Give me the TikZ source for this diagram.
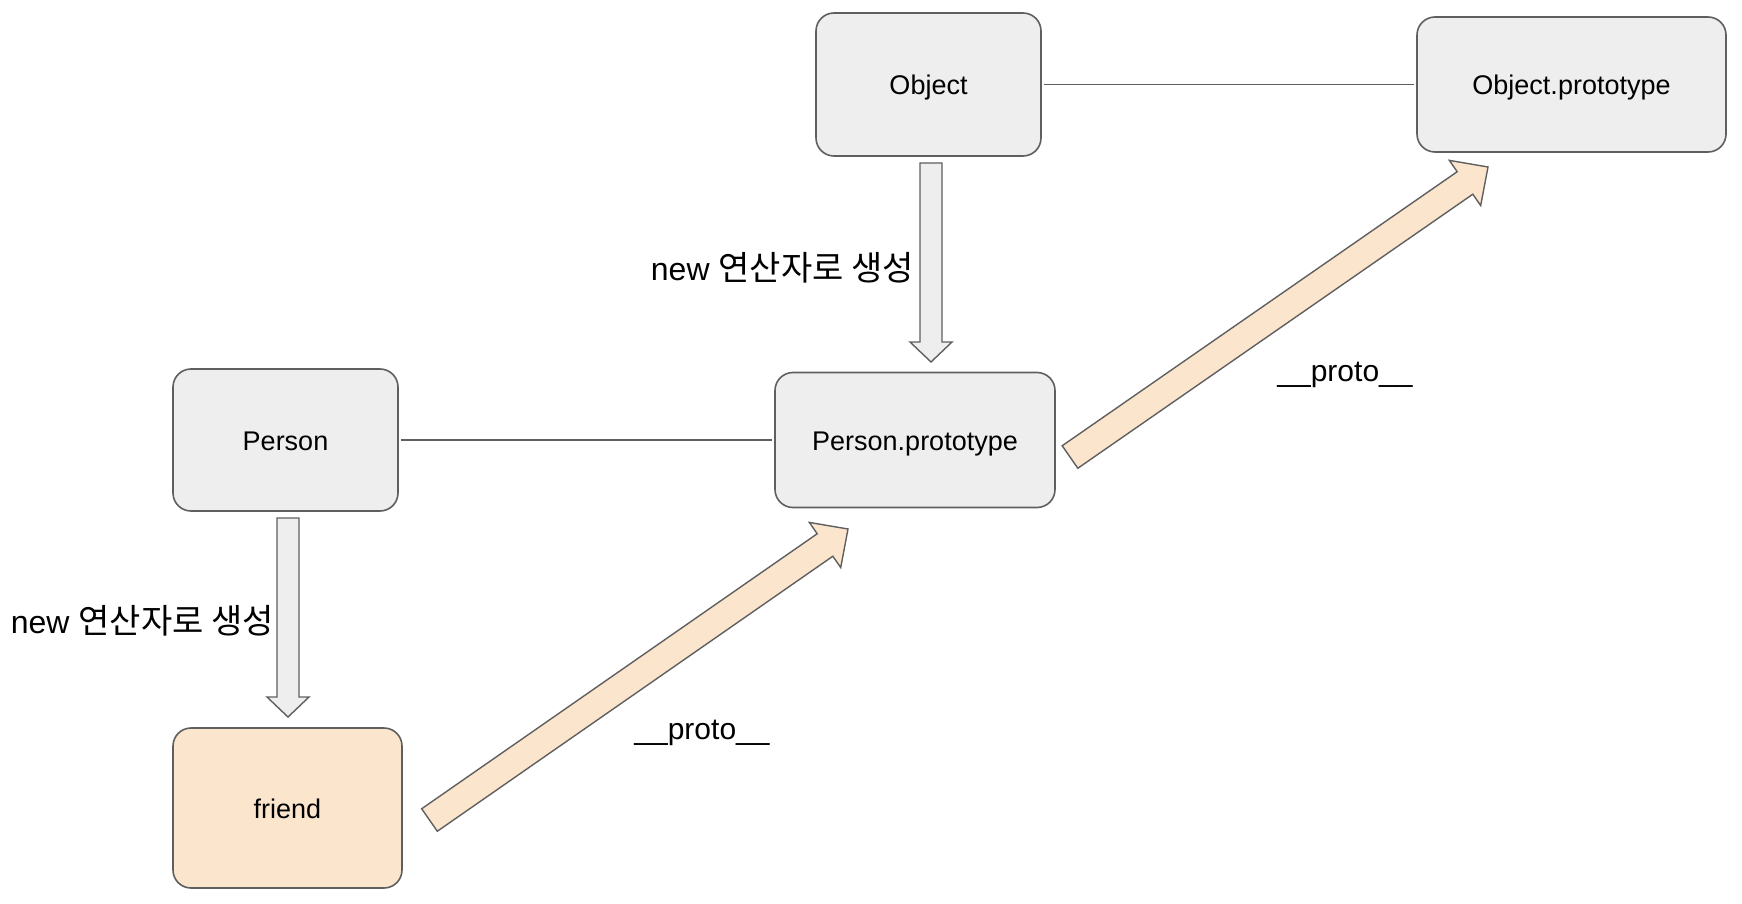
\documentclass[tikz,border=0pt]{standalone}
\usepackage{fontspec}
\setmainfont{Liberation Sans}
\newfontfamily\krfont{Noto Sans CJK KR}
\usetikzlibrary{calc}
\definecolor{boxgray}{HTML}{EEEEEE}
\definecolor{boxorange}{HTML}{FCE5CD}
\definecolor{edgegray}{HTML}{5F5F5F}
\tikzset{
  objbox/.style={draw=edgegray, line width=1.6pt, rounded corners=18pt, fill=boxgray,
    font=\fontsize{27}{32}\selectfont, inner sep=0pt, text height=20pt, text depth=0pt},
  linkline/.style={draw=edgegray, line width=1.6pt},
  lbl/.style={font=\fontsize{30}{36}\selectfont, inner sep=0pt},
  newlbl/.style={font=\fontsize{32}{38}\selectfont, inner sep=0pt},
  blk/.style={draw=edgegray, line width=1.4pt, line join=miter}
}
% #1 fill colour, #2 tail, #3 tip, #4 half shaft, #5 half head, #6 head length
\newcommand\blockarr[6]{%
  \coordinate (hb) at ($(#3)!#6!(#2)$);
  \draw[blk, fill=#1]
    ($(#2)!#4!90:(#3)$) -- ($(hb)!#4!90:(#3)$) -- ($(hb)!#5!90:(#3)$) -- (#3)
    -- ($(hb)!#5!-90:(#3)$) -- ($(hb)!#4!-90:(#3)$) -- ($(#2)!#4!-90:(#3)$) -- cycle;
}
\newcommand\krtext[1]{{\fontsize{34}{40}\selectfont\krfont #1}}
\begin{document}
\begin{tikzpicture}[x=1pt, y=-1pt]
\useasboundingbox (0,0) rectangle (1742,904);
% nodes
\node[objbox, minimum width=225pt, minimum height=143pt] (obj) at (928.5,84.5) {Object};
\node[objbox, minimum width=309pt, minimum height=135pt] (objp) at (1571.5,84.5) {Object.prototype};
\node[objbox, minimum width=225pt, minimum height=142pt] (per) at (285.5,440) {Person};
\node[objbox, minimum width=280pt, minimum height=135pt] (perp) at (915,440) {Person.prototype};
\node[objbox, fill=boxorange, minimum width=229pt, minimum height=160pt] (fr) at (287.5,808) {friend};
% plain links
\draw[linkline, shorten <=2pt, shorten >=2pt] (obj.east) -- (objp.west);
\draw[linkline, shorten <=2pt, shorten >=2pt] (per.east) -- (perp.west);
% block arrows
\coordinate (a1t) at (931,163);  \coordinate (a1h) at (931,362);
\coordinate (a2t) at (288,518);  \coordinate (a2h) at (288,717);
\coordinate (a3t) at (429.5,820); \coordinate (a3h) at (848,529);
\coordinate (a4t) at (1070,457); \coordinate (a4h) at (1488,167);
\blockarr{boxgray}{a1t}{a1h}{11pt}{21pt}{20pt}
\blockarr{boxgray}{a2t}{a2h}{11pt}{21pt}{20pt}
\blockarr{boxorange}{a3t}{a3h}{13.7pt}{27.5pt}{28pt}
\blockarr{boxorange}{a4t}{a4h}{13.7pt}{27.5pt}{28pt}
% labels
\node[newlbl, anchor=east] (l1) at (914,268) {new \krtext{연산자로 생성}};
\node[newlbl, anchor=east] (l2) at (274,621) {new \krtext{연산자로 생성}};
\node[lbl] (p1) at (1345,375) {\_\_proto\_\_};
\node[lbl] (p2) at (702,733) {\_\_proto\_\_};
\end{tikzpicture}
\end{document}
